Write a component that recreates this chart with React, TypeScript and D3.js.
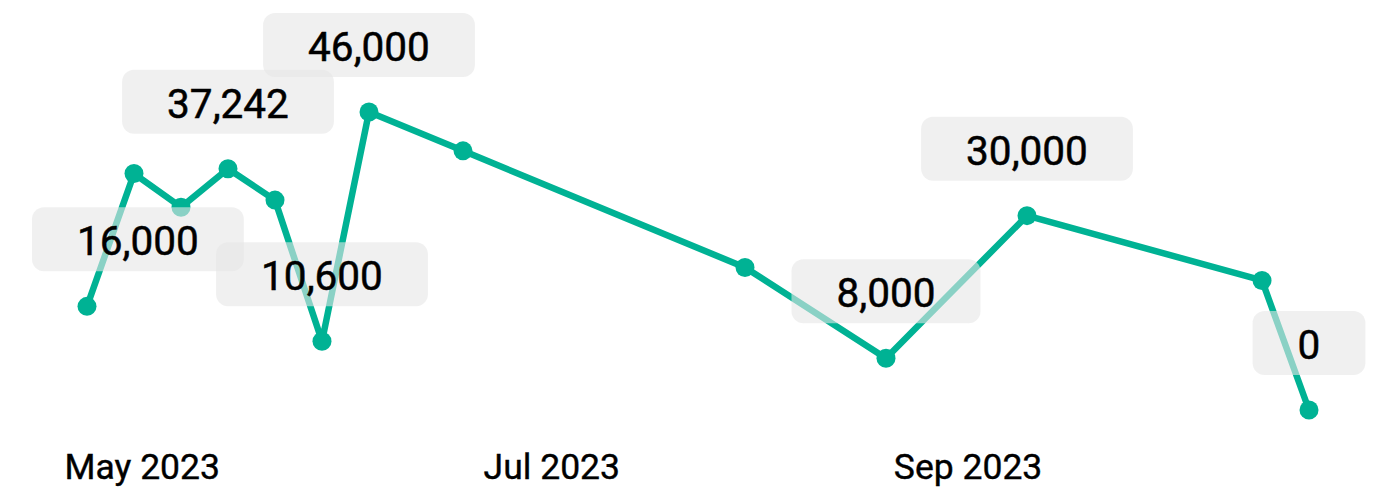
import React, { useEffect, useRef } from "react";
import * as d3 from "d3";

const dates = [
  "2023-04-23", "2023-04-30", "2023-05-07", "2023-05-14", "2023-05-21",
  "2023-05-28", "2023-06-04", "2023-06-18", "2023-07-30", "2023-08-20",
  "2023-09-10", "2023-10-15", "2023-10-22",
];
const values = [16000, 36500, 31300, 37242, 32400, 10600, 46000, 40000, 22000, 8000, 30000, 20000, 0];
const labeledIndices = [0, 3, 5, 6, 9, 10, 12];

const W = 1383;
const H = 497;
const LINE_COLOR = "#00B294";
const FONT = "Roboto, 'DejaVu Sans', sans-serif";

export default function App() {
  const ref = useRef<SVGSVGElement | null>(null);

  useEffect(() => {
    const svg = d3.select(ref.current);
    svg.selectAll("*").remove();
    const parse = d3.utcParse("%Y-%m-%d");
    const data = dates.map((d, i) => ({ date: parse(d) as Date, value: values[i] }));

    const x = d3
      .scaleUtc()
      .domain(d3.extent(data, (d) => d.date) as [Date, Date])
      .range([87, 1309]);
    const y = d3.scaleLinear().domain([0, 46000]).range([410, 112]);

    const ticks = x.ticks(d3.utcMonth.every(2) as any);
    const fmt = d3.utcFormat("%b %Y");
    svg
      .append("g")
      .selectAll("text")
      .data(ticks)
      .join("text")
      .attr("x", (d) => x(d) + 1.5)
      .attr("y", 479)
      .attr("text-anchor", "middle")
      .attr("font-family", FONT)
      .attr("font-size", 35.5)
      .attr("fill", "#000")
      .attr("stroke", "#000")
      .attr("stroke-width", 0.4)
      .text((d) => fmt(d));

    const line = d3
      .line<{ date: Date; value: number }>()
      .x((d) => x(d.date))
      .y((d) => y(d.value));

    svg
      .append("path")
      .datum(data)
      .attr("d", line)
      .attr("fill", "none")
      .attr("stroke", LINE_COLOR)
      .attr("stroke-width", 6.5)
      .attr("stroke-linejoin", "round");

    svg
      .append("g")
      .selectAll("circle")
      .data(data)
      .join("circle")
      .attr("cx", (d) => x(d.date))
      .attr("cy", (d) => y(d.value))
      .attr("r", 9.5)
      .attr("fill", LINE_COLOR);

    const labels = labeledIndices.map((i) => data[i]);
    const fmtNum = d3.format(",");
    const boxes = svg.append("g");
    const texts = svg.append("g");

    labels.forEach((d) => {
      const cx = x(d.date);
      const cy = y(d.value) - 67;
      const t = texts
        .append("text")
        .attr("font-family", FONT)
        .attr("font-size", 40.5)
        .attr("fill", "#000")
        .attr("stroke", "#000")
        .attr("stroke-width", 0.5)
        .attr("text-anchor", "middle")
        .text(fmtNum(d.value));
      const tw = (t.node() as SVGTextElement).getComputedTextLength();
      const bw = tw + 90;
      const left = Math.max(32, Math.min(W - 10 - bw, cx - bw / 2));
      const bcx = left + bw / 2;
      t.attr("x", bcx).attr("y", cy + 16);
      boxes
        .append("rect")
        .attr("x", left)
        .attr("y", cy - 32)
        .attr("width", bw)
        .attr("height", 64)
        .attr("rx", 12)
        .attr("fill", "rgb(230,230,230)")
        .attr("fill-opacity", 0.6);
    });
  }, []);

  return (
    <svg
      ref={ref}
      width={W}
      height={H}
      style={{ position: "fixed", left: 0, top: 0, background: "#fff", display: "block" }}
    />
  );
}
